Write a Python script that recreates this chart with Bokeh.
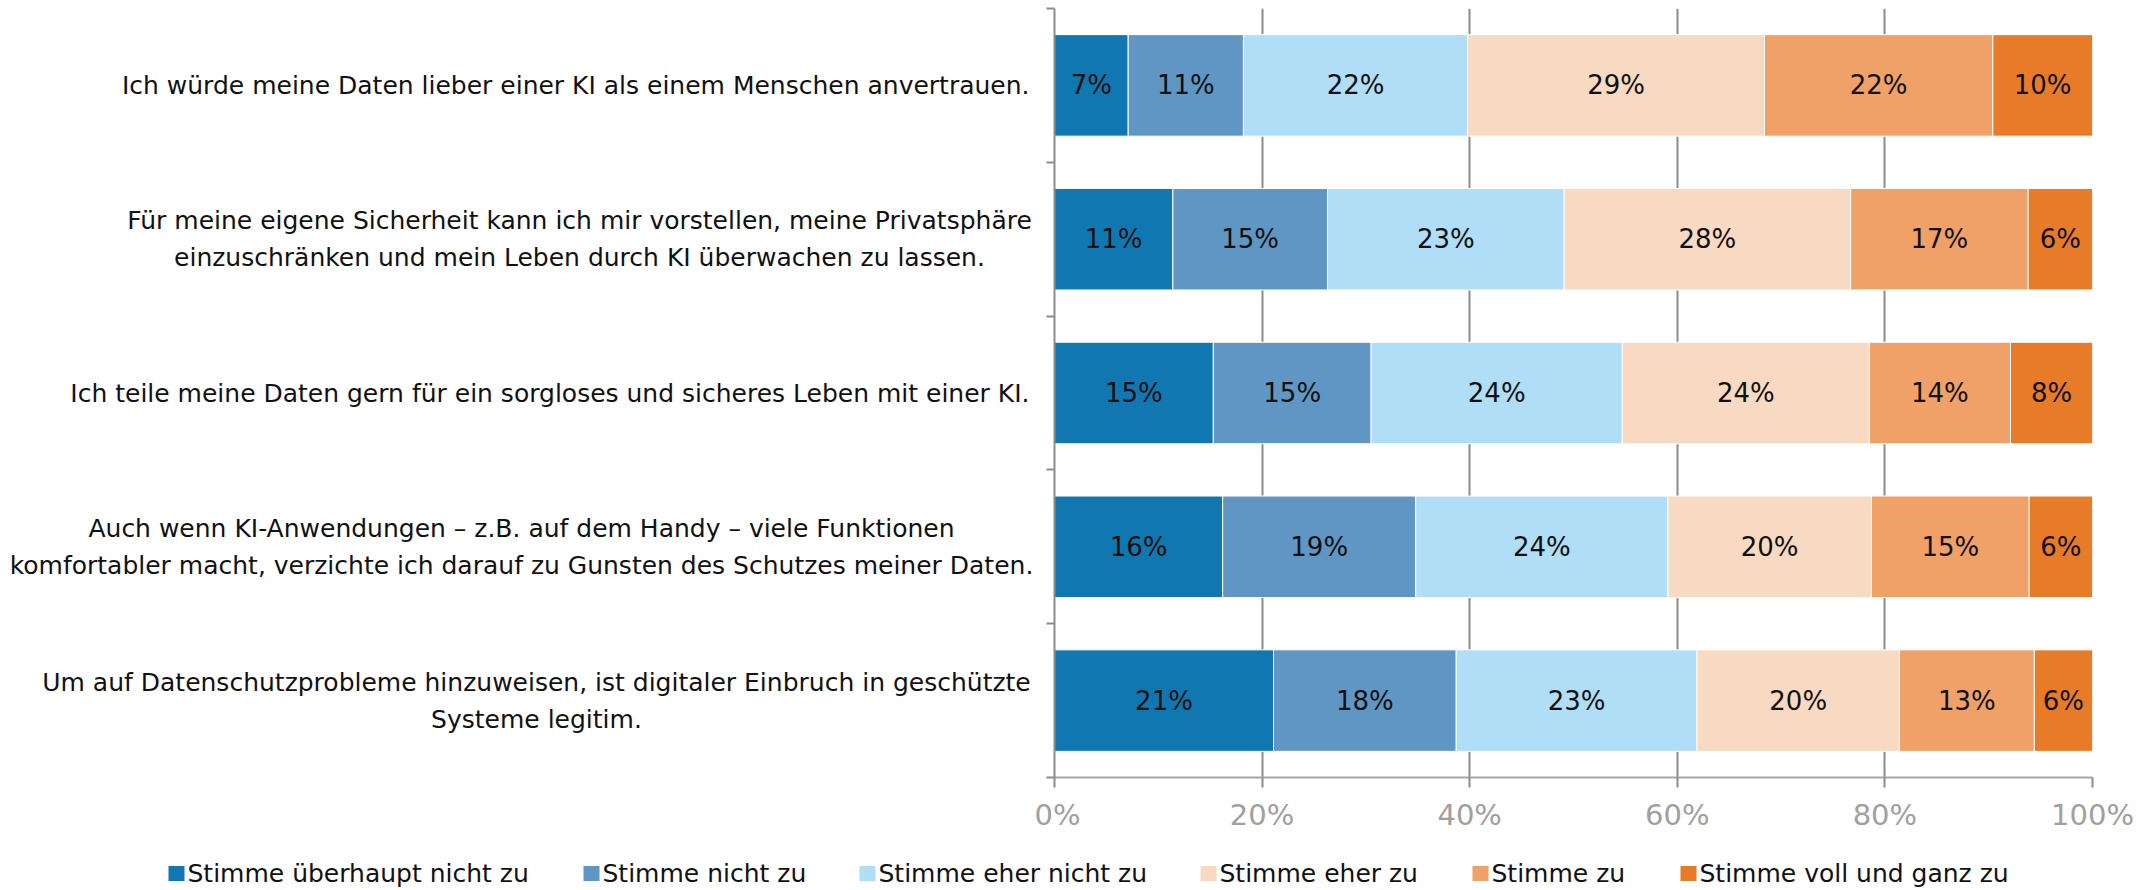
from bokeh.plotting import figure
from bokeh.models import ColumnDataSource, Range1d, FixedTicker, PrintfTickFormatter
from bokeh.layouts import row, column
from bokeh.core.properties import value
from bokeh.embed import file_html
from bokeh.resources import INLINE

# ---------------- data ----------------
categories = [
    "Ich würde meine Daten lieber einer KI als einem Menschen anvertrauen.",
    "Für meine eigene Sicherheit kann ich mir vorstellen, meine Privatsphäre\neinzuschränken und mein Leben durch KI überwachen zu lassen.",
    "Ich teile meine Daten gern für ein sorgloses und sicheres Leben mit einer KI.",
    "Auch wenn KI-Anwendungen – z.B. auf dem Handy – viele Funktionen\nkomfortabler macht, verzichte ich darauf zu Gunsten des Schutzes meiner Daten.",
    "Um auf Datenschutzprobleme hinzuweisen, ist digitaler Einbruch in geschützte\nSysteme legitim.",
]
series = ["Stimme überhaupt nicht zu", "Stimme nicht zu", "Stimme eher nicht zu",
          "Stimme eher zu", "Stimme zu", "Stimme voll und ganz zu"]
ueberhaupt_nicht = [7.1, 11.4, 15.3, 16.2, 21.1]
nicht = [11.1, 14.9, 15.2, 18.6, 17.6]
eher_nicht = [21.6, 22.8, 24.2, 24.3, 23.2]
eher_zu = [28.6, 27.6, 23.8, 19.6, 19.5]
zu = [22.0, 17.1, 13.6, 15.2, 13.0]
voll = [9.6, 6.2, 7.9, 6.1, 5.6]
x_ticks = [0, 20, 40, 60, 80, 100]

# ---------------- style / layout ----------------
colors = ["#1177B0", "#6096C3", "#B0DEF6", "#F8DAC2", "#EFA168", "#E77B27"]
FONT = "DejaVu Sans"
TXT_SIZE = "25px"
grid_col = "#8c8c8c"
TOP_H = 834           # height of chart row
TOP_B = 8             # top border
BOT_B = TOP_H - TOP_B - 769   # bottom border (x axis)
LEFT_W = 1034         # label panel width
MAIN_W = 20 + 1038 + 56
LABEL_RIGHT = 1029    # right edge of category labels (px)
block_width = [None, 900, None, 1016, 986]   # widest-line widths of 2-line labels
LEG_H = 54
legend_x = [168, 583, 859, 1200, 1472, 1680]  # legend marker left edges (px)
legend_yc = 39

values = [ueberhaupt_nicht, nicht, eher_nicht, eher_zu, zu, voll]
keys = ["s%d" % i for i in range(len(series))]
ypos = [i + 0.5 for i in range(len(categories))]
y_range = Range1d(len(categories), 0)

data = {"y": ypos}
for k, v in zip(keys, values):
    data[k] = v
source = ColumnDataSource(data)

# ---------------- main chart ----------------
p = figure(width=MAIN_W, height=TOP_H, output_backend="svg", toolbar_location=None,
           x_range=Range1d(0, 100), y_range=y_range,
           min_border_left=20, min_border_right=56, min_border_top=TOP_B,
           min_border_bottom=BOT_B)
p.outline_line_color = None

renderers = p.hbar_stack(keys, y="y", height=0.66, source=source,
                         fill_color=colors, line_color="white", line_width=1)

mx, my, mt = [], [], []
for ci in range(len(categories)):
    left = 0.0
    for si in range(len(series)):
        v = values[si][ci]
        mx.append(left + v / 2)
        my.append(ypos[ci])
        mt.append("%d%%" % int(v + 0.5))
        left += v
p.text(x=mx, y=my, text=mt, text_align="center", text_baseline="middle",
       text_font=value(FONT), text_font_size="26px", text_color="#111111")

xa = p.xaxis[0]
xa.ticker = FixedTicker(ticks=x_ticks)
xa.formatter = PrintfTickFormatter(format="%d%%")
xa.axis_line_color = "#a6a6a6"
xa.axis_line_width = 2
xa.major_tick_in = 0
xa.major_tick_out = 10
xa.major_tick_line_color = grid_col
xa.major_tick_line_width = 2
xa.minor_tick_line_color = None
xa.major_label_text_font = FONT
xa.major_label_text_font_size = "29px"
xa.major_label_text_color = "#a0a0a0"
xa.major_label_standoff = 10

ya = p.yaxis[0]
ya.ticker = FixedTicker(ticks=list(range(len(categories) + 1)))
ya.major_label_text_color = None
ya.major_label_text_font_size = "1px"
ya.major_label_standoff = 0
ya.axis_line_color = grid_col
ya.axis_line_width = 2
ya.major_tick_in = 0
ya.major_tick_out = 8
ya.major_tick_line_color = grid_col
ya.major_tick_line_width = 2
ya.minor_tick_line_color = None

p.xgrid.ticker = FixedTicker(ticks=x_ticks)
p.xgrid.grid_line_color = grid_col
p.xgrid.grid_line_width = 2
p.ygrid.grid_line_color = None

# ---------------- category label panel ----------------
pl = figure(width=LEFT_W, height=TOP_H, output_backend="svg", toolbar_location=None,
            x_range=Range1d(0, LEFT_W), y_range=y_range,
            x_axis_type=None, y_axis_type=None,
            min_border_left=0, min_border_right=0, min_border_top=TOP_B,
            min_border_bottom=BOT_B)
pl.outline_line_color = None
pl.grid.visible = False
r_x, r_y, r_t = [], [], []
c_x, c_y, c_t = [], [], []
for ci, cat in enumerate(categories):
    if block_width[ci] is None:
        r_x.append(LABEL_RIGHT); r_y.append(ypos[ci]); r_t.append(cat)
    else:
        c_x.append(LABEL_RIGHT - block_width[ci] / 2); c_y.append(ypos[ci]); c_t.append(cat)
pl.text(x=r_x, y=r_y, text=r_t, text_align="right", text_baseline="middle",
        text_font=value(FONT), text_font_size=TXT_SIZE, text_color="#111111",
        text_line_height=1.28)
pl.text(x=c_x, y=c_y, text=c_t, text_align="center", text_baseline="middle",
        text_font=value(FONT), text_font_size=TXT_SIZE, text_color="#111111",
        text_line_height=1.28)

# ---------------- legend panel ----------------
TOTAL_W = LEFT_W + MAIN_W
pg = figure(width=TOTAL_W, height=LEG_H, output_backend="svg", toolbar_location=None,
            x_range=Range1d(0, TOTAL_W), y_range=Range1d(LEG_H, 0),
            x_axis_type=None, y_axis_type=None,
            min_border_left=0, min_border_right=0, min_border_top=0, min_border_bottom=0)
pg.outline_line_color = None
pg.grid.visible = False
pg.rect(x=[lx + 8 for lx in legend_x], y=[legend_yc] * len(series), width=16, height=15,
        fill_color=colors, line_color=None)
pg.text(x=[lx + 19 for lx in legend_x], y=[legend_yc] * len(series), text=series,
        text_align="left", text_baseline="middle", text_font=value(FONT),
        text_font_size=TXT_SIZE, text_color="#111111")

layout = column(row(pl, p), pg)
open("out.html", "w").write(file_html(layout, INLINE))
